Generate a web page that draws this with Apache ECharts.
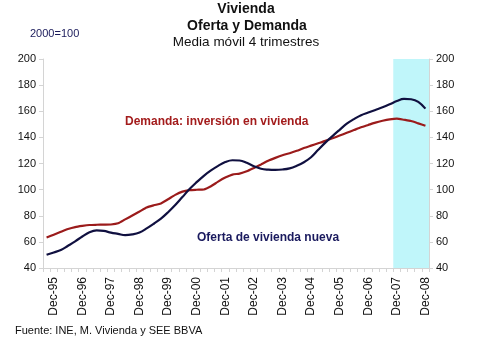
<!DOCTYPE html>
<html>
<head>
<meta charset="utf-8">
<script src="https://cdn.jsdelivr.net/npm/echarts@6/dist/echarts.min.js"></script>
<style>html,body{margin:0;padding:0;background:#fff;}#c{width:480px;height:340px;}</style>
</head>
<body>
<div id="c"></div>
<script>
var categories = ['Sep-95','Dec-95',
 'Mar-96','Jun-96','Sep-96','Dec-96',
 'Mar-97','Jun-97','Sep-97','Dec-97',
 'Mar-98','Jun-98','Sep-98','Dec-98',
 'Mar-99','Jun-99','Sep-99','Dec-99',
 'Mar-00','Jun-00','Sep-00','Dec-00',
 'Mar-01','Jun-01','Sep-01','Dec-01',
 'Mar-02','Jun-02','Sep-02','Dec-02',
 'Mar-03','Jun-03','Sep-03','Dec-03',
 'Mar-04','Jun-04','Sep-04','Dec-04',
 'Mar-05','Jun-05','Sep-05','Dec-05',
 'Mar-06','Jun-06','Sep-06','Dec-06',
 'Mar-07','Jun-07','Sep-07','Dec-07',
 'Mar-08','Jun-08','Sep-08','Dec-08'];

var xTickLabels = ['Dec-95','Dec-96','Dec-97','Dec-98','Dec-99','Dec-00','Dec-01',
 'Dec-02','Dec-03','Dec-04','Dec-05','Dec-06','Dec-07','Dec-08'];

var demanda = [63.3,65.5,67.7,69.8,71.3,72.2,72.9,73.1,73.2,73.3,
 74.2,77.2,80.2,83.2,86.3,88.0,89.4,92.6,96.0,98.5,
 99.6,99.9,100.1,102.6,106.1,109.2,111.5,112.3,114.0,116.6,
 119.3,122.1,124.3,126.3,127.9,129.7,131.9,133.7,135.5,137.3,
 139.3,141.4,143.5,145.6,147.7,149.5,151.3,152.7,153.8,154.4,
 153.5,152.5,150.7,148.9];

var oferta = [50.1,51.9,53.7,57.0,60.4,64.1,67.4,68.8,68.4,67.1,
 66.1,65.1,65.7,67.2,70.3,73.9,77.8,82.7,88.2,94.3,
 100.4,105.7,110.6,114.7,118.2,121.1,122.5,122.3,120.5,117.9,
 116.0,115.3,115.1,115.4,116.3,118.3,121.0,124.8,130.5,136.0,
 141.0,145.8,150.5,154.0,157.0,159.0,161.0,163.0,165.3,167.8,
 169.5,169.2,167.2,162.0];

var yTicks = [40,60,80,100,120,140,160,180,200];
var shadeStart = 'Dec-07';
var shadeEnd = 'Dec-08';

var FONT = '"Liberation Sans", Arial, sans-serif';
var chart = echarts.init(document.getElementById('c'), null, {renderer:'canvas'});

var yMin = yTicks[0], yMax = yTicks[yTicks.length-1], yStep = yTicks[1]-yTicks[0];
var bandFrom = categories.indexOf(shadeStart);
var bandTo = categories.indexOf(shadeEnd) + 1;

function yAxisCfg(pos){
  return {
    type:'value', position:pos, min:yMin, max:yMax, interval:yStep,
    axisLine:{show:true, lineStyle:{color:'#d4d4d4', width:1}},
    axisTick:{show:true, length:4, lineStyle:{color:'#d4d4d4'}},
    splitLine:{show:false},
    axisLabel:{color:'#111', fontSize:11, fontFamily:FONT, margin:7}
  };
}

chart.setOption({
  animation:false,
  backgroundColor:'#fff',
  grid:{left:43, right:51, top:59, bottom:72, containLabel:false},
  xAxis:[{
    type:'category', data:categories, boundaryGap:true,
    axisLine:{show:true, lineStyle:{color:'#d4d4d4'}},
    axisTick:{show:true, length:4, interval:0, lineStyle:{color:'#d4d4d4'}},
    axisLabel:{
      rotate:90, fontSize:12, fontFamily:FONT, color:'#111', margin:9,
      interval:function(i, v){ return xTickLabels.indexOf(v) >= 0; }
    },
    splitLine:{show:false}
  },{
    type:'value', min:0, max:categories.length, show:false
  }],
  yAxis:[yAxisCfg('left'), yAxisCfg('right')],
  series:[{
    type:'line', xAxisIndex:1, yAxisIndex:0, data:[], silent:true,
    markArea:{silent:true, itemStyle:{color:'#c0f6fa'},
      data:[[{xAxis:bandFrom},{xAxis:bandTo}]]}
  },{
    name:'Demanda', type:'line', data:demanda, smooth:0.2, symbol:'none',
    lineStyle:{color:'#9b1b1b', width:2.2}, z:3
  },{
    name:'Oferta', type:'line', data:oferta, smooth:0.4, symbol:'none',
    lineStyle:{color:'#101040', width:2.2}, z:4
  }],
  graphic:[
    {type:'text', style:{text:'Vivienda', font:'bold 14px '+FONT, fill:'#111', textAlign:'center', textVerticalAlign:'middle'}, x:246, y:9},
    {type:'text', style:{text:'Oferta y Demanda', font:'bold 14px '+FONT, fill:'#111', textAlign:'center', textVerticalAlign:'middle'}, x:247, y:26},
    {type:'text', style:{text:'Media móvil 4 trimestres', font:'13.5px '+FONT, fill:'#111', textAlign:'center', textVerticalAlign:'middle'}, x:246, y:42},
    {type:'text', style:{text:'2000=100', font:'11px '+FONT, fill:'#1a1a5a', textAlign:'left', textVerticalAlign:'middle'}, x:30, y:34},
    {type:'text', style:{text:'Demanda: inversión en vivienda', font:'bold 12px '+FONT, fill:'#a31c1c', textAlign:'left', textVerticalAlign:'middle'}, x:125, y:122},
    {type:'text', style:{text:'Oferta de vivienda nueva', font:'bold 12px '+FONT, fill:'#1a1a5e', textAlign:'left', textVerticalAlign:'middle'}, x:197, y:238},
    {type:'text', style:{text:'Fuente: INE, M. Vivienda y SEE BBVA', font:'11px '+FONT, fill:'#111', textAlign:'left', textVerticalAlign:'middle'}, x:15, y:331}
  ]
});
</script>
</body>
</html>
